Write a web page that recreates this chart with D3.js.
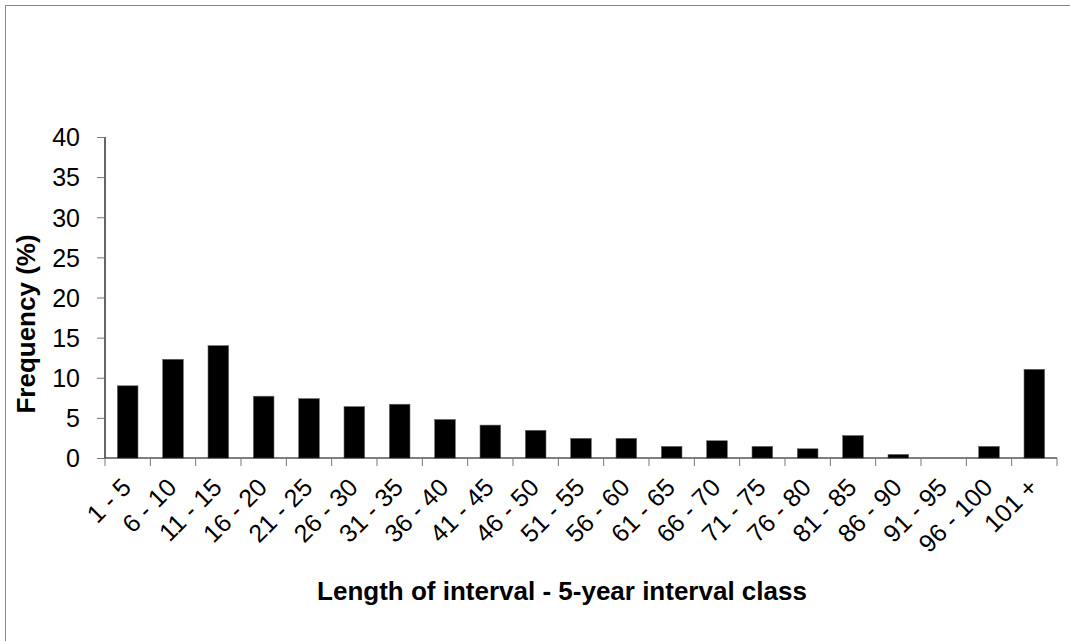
<!DOCTYPE html>
<html>
<head>
<meta charset="utf-8">
<script src="https://cdn.jsdelivr.net/npm/d3@7"></script>
<style>
  html, body { margin: 0; padding: 0; background: #fff; }
  svg { display: block; }
</style>
</head>
<body>
<svg id="chart" width="1070" height="641"></svg>
<script>
const categories = ["1 - 5","6 - 10","11 - 15","16 - 20","21 - 25","26 - 30","31 - 35","36 - 40","41 - 45","46 - 50","51 - 55","56 - 60","61 - 65","66 - 70","71 - 75","76 - 80","81 - 85","86 - 90","91 - 95","96 - 100","101 +"];
const frequency = [9.0, 12.3, 14.0, 7.7, 7.4, 6.4, 6.7, 4.8, 4.1, 3.45, 2.45, 2.45, 1.45, 2.15, 1.45, 1.15, 2.8, 0.45, 0, 1.45, 11.05];
const yTicks = [0, 5, 10, 15, 20, 25, 30, 35, 40];
const yTitle = "Frequency (%)";
const xTitle = "Length of interval - 5-year interval class";

(function () {
const svg = d3.select("#chart");
const font = "Arial, 'Liberation Sans', sans-serif";

// outer border (only top and left edges visible in frame)
svg.append("rect").attr("x", 5.5).attr("y", 5.5).attr("width", 1100).attr("height", 700)
  .attr("fill", "none").attr("stroke", "#888").attr("stroke-width", 1);

const pL = 105, pR = 1057, pT = 137, pB = 458;
const x = d3.scaleBand().domain(categories).range([pL, pR]).paddingInner(0).paddingOuter(0);
const y = d3.scaleLinear().domain([0, 40]).range([pB, pT]);
const barW = x.bandwidth() * 0.455;

// bars
svg.append("g").selectAll("rect").data(categories).join("rect")
  .attr("x", d => x(d) + x.bandwidth() / 2 - barW / 2)
  .attr("y", (d, i) => y(frequency[i]))
  .attr("width", barW)
  .attr("height", (d, i) => y(0) - y(frequency[i]))
  .attr("fill", "#000")
  .attr("stroke", (d, i) => frequency[i] > 0 ? "#666" : "none")
  .attr("stroke-width", 0.6);

// y axis
const yAxis = d3.axisLeft(y).tickValues(yTicks).tickSize(8).tickPadding(17).tickFormat(d3.format("d"));
const gy = svg.append("g").attr("transform", `translate(${pL},0)`).call(yAxis);
gy.select(".domain").attr("stroke", "#000").attr("stroke-width", 1.2).attr("d", `M0,${pT}V${pB}`);
gy.selectAll(".tick line").attr("stroke", "#777");
gy.selectAll(".tick text").attr("font-family", font).attr("font-size", 25).attr("fill", "#000").attr("dy", "0.35em");

// x axis
const gx = svg.append("g").attr("transform", `translate(0,${pB})`);
gx.append("line").attr("x1", pL).attr("x2", pR).attr("y1", 0).attr("y2", 0)
  .attr("stroke", "#000").attr("stroke-width", 1.2);
const boundaries = categories.map(c => x(c)).concat([pR]);
gx.selectAll("line.tk").data(boundaries).join("line").attr("class", "tk")
  .attr("x1", d => d).attr("x2", d => d).attr("y1", 0).attr("y2", 8)
  .attr("stroke", "#777");
gx.selectAll("text.lbl").data(categories).join("text").attr("class", "lbl")
  .attr("transform", d => `translate(${x(d) + x.bandwidth() / 2 + 5},${31}) rotate(-45)`)
  .attr("text-anchor", "end")
  .attr("font-family", font).attr("font-size", 25).attr("fill", "#000")
  .text(d => d);

// titles
svg.append("text").attr("x", 562).attr("y", 600).attr("text-anchor", "middle")
  .attr("font-family", font).attr("font-size", 26).attr("font-weight", "bold").text(xTitle);
svg.append("text").attr("transform", `translate(35,324) rotate(-90)`).attr("text-anchor", "middle")
  .attr("font-family", font).attr("font-size", 26).attr("font-weight", "bold").text(yTitle);
})();
</script>
</body>
</html>
